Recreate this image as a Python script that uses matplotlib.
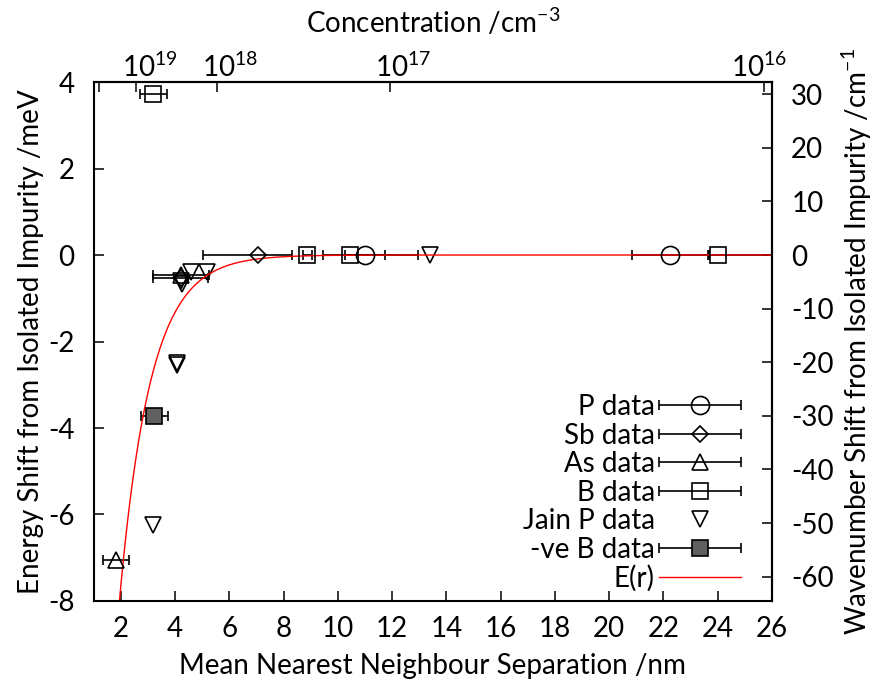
import numpy as np
import matplotlib
matplotlib.use("Agg")
import matplotlib.pyplot as plt
from matplotlib.legend_handler import HandlerErrorbar
from matplotlib.container import ErrorbarContainer
from matplotlib.transforms import ScaledTranslation

plt.rcParams['font.family'] = ['Lato', 'DejaVu Sans']
plt.rcParams['mathtext.default'] = 'regular'
plt.rcParams['axes.unicode_minus'] = False
plt.rcParams['font.size'] = 20

MEV_TO_CM = 8.0655      # 1 meV in cm^-1
NN_COEF = 0.554e7       # r [nm] = 0.554e7 * n [cm^-3] ^ (-1/3)

# ---- data: separation r (nm), energy shift (meV), x errors (lo, hi) ----
p_r = [11.0, 22.24]
p_e = [0.0, 0.0]
p_err = [[0.74, 1.41], [0.74, 1.41]]

sb_r = [4.2, 7.06]
sb_e = [-0.52, 0.0]
sb_err = [[1.03, 2.03], [1.02, 1.23]]

as_r = [1.81, 4.22]
as_e = [-7.05, -0.47]
as_err = [[0.49, 1.03], [0.5, 1.02]]

b_r = [3.19, 8.85, 10.44, 24.0]
b_e = [3.72, 0.0, 0.0, 0.0]
b_err = [[0.48, 0.15, 0.98, 0.3], [0.52, 0.2, 2.52, 3.0]]

jain_r = [3.17, 4.07, 4.07, 4.22, 4.24, 4.6, 5.16, 13.39]
jain_e = [-6.24, -2.49, -2.55, -0.6, -0.68, -0.39, -0.39, 0.0]

negb_r = [3.23]
negb_e = [-3.72]
negb_err = [[0.49], [0.49]]

# model E(r) = -E0 exp(-r / r0)
E0 = 44.0
R0 = 1.14

x_ticks = [2, 4, 6, 8, 10, 12, 14, 16, 18, 20, 22, 24, 26]
e_ticks = [-8, -6, -4, -2, 0, 2, 4]
wn_ticks = [-60, -50, -40, -30, -20, -10, 0, 10, 20, 30]
conc_ticks = [1e20, 1e19, 1e18, 1e17, 1e16]
conc_labels = ['', '$10^{19}$', '$10^{18}$', '$10^{17}$', '$10^{16}$']
legend_order = ['P data', 'Sb data', 'As data', 'B data', 'Jain P data',
                '-ve B data', 'E(r)']


def r_to_conc(r):
    r = np.clip(np.asarray(r, dtype=float), 1e-3, None)
    return (NN_COEF / r) ** 3


def conc_to_r(n):
    n = np.clip(np.asarray(n, dtype=float), 1e-30, None)
    return NN_COEF * n ** (-1.0 / 3.0)


fig, ax = plt.subplots(figsize=(8.79, 6.87), dpi=100)
fig.subplots_adjust(left=0.1068, right=0.878, top=0.8806, bottom=0.1252)

eb = dict(ls='none', color='black', ecolor='black', elinewidth=1.2,
          capsize=3.5, capthick=1.2, mew=1.2)

ax.errorbar(p_r, p_e, xerr=p_err, fmt='o', ms=13, mfc='none',
            label='P data', **eb)
ax.errorbar(sb_r, sb_e, xerr=sb_err, fmt='D', ms=8.5, mfc='none',
            label='Sb data', **eb)
ax.errorbar(as_r, as_e, xerr=as_err, fmt='^', ms=12, mfc='none',
            label='As data', **eb)
ax.errorbar(b_r, b_e, xerr=b_err, fmt='s', ms=12, mfc='none',
            label='B data', **eb)
ax.plot(jain_r, jain_e, 'v', ms=12, mfc='none', mec='black', mew=1.2,
        label='Jain P data')
ax.errorbar(negb_r, negb_e, xerr=negb_err, fmt='s', ms=12, mfc='#606060',
            label='-ve B data', **eb)

r = np.linspace(1.0, 26.0, 600)
ax.plot(r, -E0 * np.exp(-r / R0), color='red', lw=1.0, label='E(r)')

ax.set_xlim(1, 26)
ax.set_ylim(-8, 4)
ax.set_xticks(x_ticks)
ax.set_yticks(e_ticks)
ax.set_xlabel('Mean Nearest Neighbour Separation /nm', labelpad=8)
ax.set_ylabel('Energy Shift from Isolated Impurity /meV', labelpad=3)

# wavenumber scale on the right
secy = ax.secondary_yaxis('right', functions=(lambda e: e * MEV_TO_CM,
                                              lambda w: w / MEV_TO_CM))
secy.set_yticks(wn_ticks)
secy.set_ylabel('Wavenumber Shift from Isolated Impurity /cm$^{-1}$',
                labelpad=4)

# concentration scale on top
secx = ax.secondary_xaxis('top', functions=(r_to_conc, conc_to_r))
secx.set_xticks(conc_ticks, labels=conc_labels)
secx.set_xlabel('Concentration /cm$^{-3}$', labelpad=14)

for a in (ax, secx, secy):
    a.tick_params(direction='in', length=7, width=1.1)
    for s in a.spines.values():
        s.set_linewidth(1.5)
ax.tick_params(top=False, right=False)
ax.tick_params(axis='x', pad=11)
ax.tick_params(axis='y', pad=14)
secy.tick_params(pad=14)
secx.tick_params(pad=0)

# exponent labels sit with the mantissa over the tick
for lab, dx in zip(secx.get_xticklabels(), [0, 13, 13, 13, -5]):
    lab.set_transform(lab.get_transform() +
                      ScaledTranslation(dx / 100, 0, fig.dpi_scale_trans))

handles, labels = ax.get_legend_handles_labels()
lookup = dict(zip(labels, handles))
leg = ax.legend([lookup[k] for k in legend_order], legend_order,
                loc='lower right', frameon=False, markerfirst=False,
                handlelength=2.95, labelspacing=0.09, handletextpad=0.15,
                borderaxespad=0.35, bbox_to_anchor=(0.985, -0.023),
                handler_map={ErrorbarContainer: HandlerErrorbar(xerr_size=1.47)})

fig.savefig('out.png', dpi=100)
